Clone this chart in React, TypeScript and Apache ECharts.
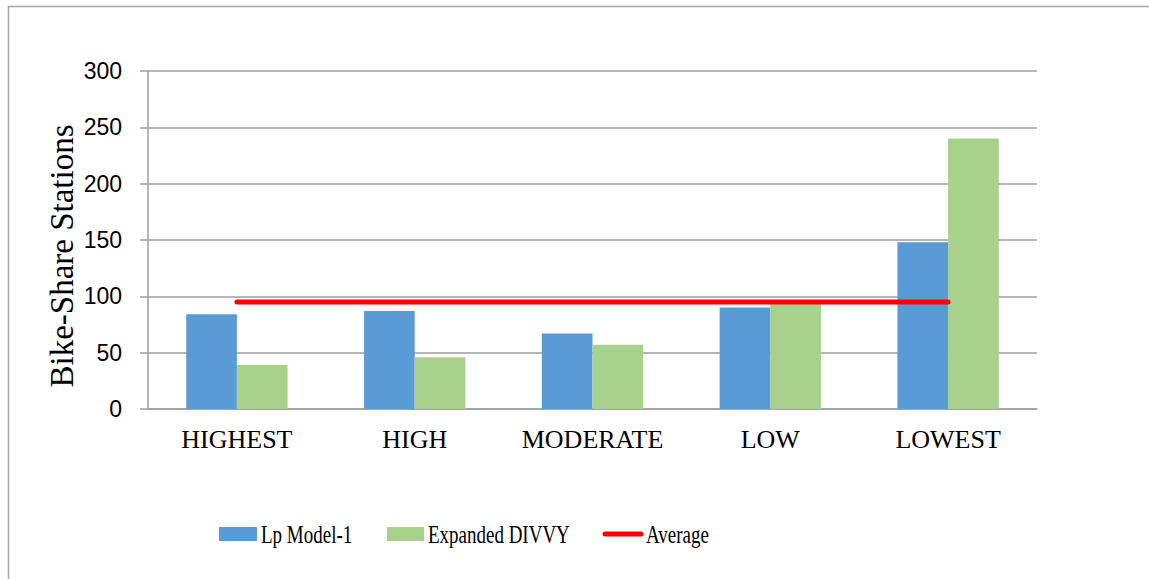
import React, { useEffect, useRef } from "react";
import * as echarts from "echarts";

const categories = ["HIGHEST", "HIGH", "MODERATE", "LOW", "LOWEST"];
const seriesNames = ["Lp Model-1", "Expanded DIVVY", "Average"];
const lpModel = [84, 87, 67, 90, 148];
const expandedDivvy = [39, 46, 57, 94, 240];
const average = [95, 95, 95, 95, 95];
const yTicks = { min: 0, max: 300, interval: 50 };

const BLUE = "#5b9bd5";
const GREEN = "#a9d18e";
const RED = "#ff0000";

export default function App() {
  const ref = useRef<HTMLDivElement>(null);
  useEffect(() => {
    if (!ref.current) return;
    const chart = echarts.init(ref.current, undefined, { renderer: "svg" });
    const serif = "'Liberation Serif', 'Times New Roman', serif";
    const legendText = (text: string, x: number) => ({
      type: "text",
      x,
      y: 535,
      scaleX: 0.76,
      style: {
        text,
        font: `25px ${serif}`,
        fill: "#000",
        align: "left",
        verticalAlign: "middle",
      },
    });
    chart.setOption({
      animation: false,
      backgroundColor: "#ffffff",
      grid: { left: 148, right: 112, top: 71, bottom: 170, containLabel: false },
      graphic: [
        {
          type: "rect",
          shape: { x: 8.5, y: 6.5, width: 1300, height: 800 },
          style: { fill: "none", stroke: "#a6a6a6", lineWidth: 1.5 },
          silent: true,
        },
        {
          type: "text",
          x: 62,
          y: 256,
          rotation: Math.PI / 2,
          style: {
            text: "Bike-Share Stations",
            font: `33px ${serif}`,
            fill: "#000",
            align: "center",
            verticalAlign: "middle",
          },
        },
        { type: "rect", shape: { x: 219, y: 527, width: 38, height: 14 }, style: { fill: BLUE } },
        legendText(seriesNames[0], 261),
        { type: "rect", shape: { x: 387, y: 527, width: 37, height: 14 }, style: { fill: GREEN } },
        legendText(seriesNames[1], 428),
        {
          type: "line",
          shape: { x1: 605, y1: 534, x2: 641, y2: 534 },
          style: { stroke: RED, lineWidth: 5, lineCap: "round" },
        },
        legendText(seriesNames[2], 646),
      ],
      xAxis: {
        type: "category",
        data: categories,
        axisLine: { show: true, lineStyle: { color: "#9e9e9e", width: 1.5 } },
        axisTick: { show: false },
        axisLabel: { interval: 0, fontFamily: serif, fontSize: 26, color: "#000", margin: 17 },
      },
      yAxis: {
        type: "value",
        min: yTicks.min,
        max: yTicks.max,
        interval: yTicks.interval,
        axisLine: { show: true, lineStyle: { color: "#9e9e9e", width: 1.5 } },
        axisTick: { show: true, length: 8, lineStyle: { color: "#9e9e9e", width: 1.5 } },
        axisLabel: { fontFamily: "'Liberation Sans', Arial, sans-serif", fontSize: 23, color: "#000", margin: 26 },
        splitLine: { show: true, lineStyle: { color: "#9e9e9e", width: 1.5 } },
      },
      series: [
        {
          name: seriesNames[0],
          type: "bar",
          data: lpModel,
          barGap: "0%",
          barCategoryGap: "43%",
          itemStyle: { color: BLUE },
        },
        {
          name: seriesNames[1],
          type: "bar",
          data: expandedDivvy,
          barGap: "0%",
          barCategoryGap: "43%",
          itemStyle: { color: GREEN },
        },
        {
          name: seriesNames[2],
          type: "line",
          data: average,
          symbol: "none",
          lineStyle: { color: RED, width: 5, cap: "round" },
          itemStyle: { color: RED },
          z: 5,
        },
      ],
    });
    return () => chart.dispose();
  }, []);
  return (
    <div
      ref={ref}
      style={{ position: "absolute", left: 0, top: 0, width: 1149, height: 579 }}
    />
  );
}
